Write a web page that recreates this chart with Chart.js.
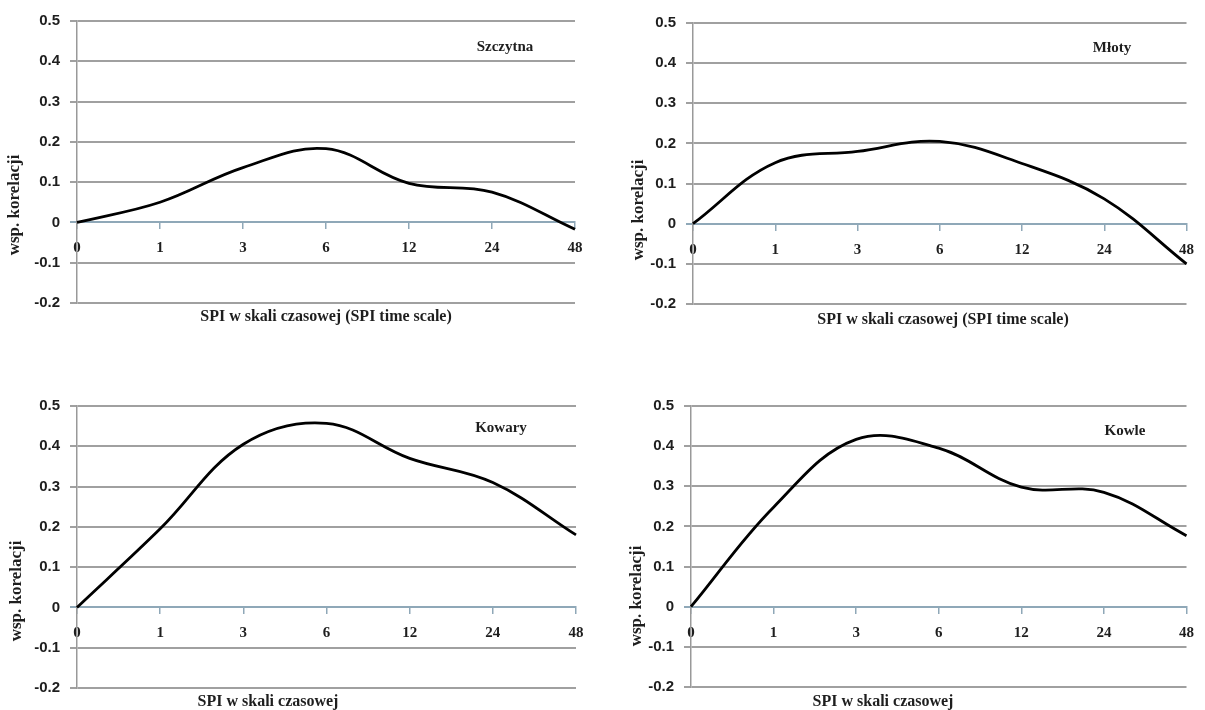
<!DOCTYPE html>
<html>
<head>
<meta charset="utf-8">
<script src="https://cdn.jsdelivr.net/npm/chart.js@4.4.0/dist/chart.umd.min.js"></script>
<style>
  body { margin: 0; background: #fff; }
  .panel { position: absolute; }
</style>
</head>
<body>
<div class="panel" style="left:0;top:0"><canvas id="c1" width="600" height="340"></canvas></div>
<div class="panel" style="left:600px;top:0"><canvas id="c2" width="605" height="340"></canvas></div>
<div class="panel" style="left:0;top:340px"><canvas id="c3" width="600" height="370"></canvas></div>
<div class="panel" style="left:600px;top:340px"><canvas id="c4" width="605" height="370"></canvas></div>
<script>
// SPI time scales (months)
const timeScales = ['0', '1', '3', '6', '12', '24', '48'];

// correlation coefficient per station
const szczytna = [0, 0.05, 0.136, 0.183, 0.097, 0.075, -0.017];
const mloty    = [0, 0.152, 0.18, 0.205, 0.15, 0.062, -0.1];
const kowary   = [0, 0.195, 0.405, 0.457, 0.37, 0.31, 0.18];
const kowle    = [0, 0.248, 0.417, 0.395, 0.298, 0.285, 0.177];

const yMin = -0.2, yMax = 0.5, yStep = 0.1;

const yTitle = 'wsp. korelacji';
const xTitleLong = 'SPI w skali czasowej (SPI time scale)';
const xTitleShort = 'SPI w skali czasowej';

const gridGray = '#a0a0a0';
const zeroBlue = '#8fa8b8';
const textColor = '#1e1e1e';
const serif = '"Liberation Serif", "DejaVu Serif", serif';
const sans = '"Liberation Sans", Arial, sans-serif';

// station name and axis titles, placed where they sit in the original figure
const panelText = {
  id: 'panelText',
  afterDraw(chart, args, opts) {
    const ctx = chart.ctx;
    ctx.save();
    ctx.fillStyle = textColor;
    ctx.textAlign = 'center';
    ctx.textBaseline = 'middle';

    ctx.font = 'bold 15px ' + serif;
    ctx.fillText(opts.station, opts.stationX, opts.stationY);

    ctx.font = 'bold 16px ' + serif;
    ctx.fillText(opts.xTitle, opts.xTitleX, opts.xTitleY);

    ctx.translate(opts.yTitleX, opts.yTitleY);
    ctx.rotate(-Math.PI / 2);
    ctx.font = 'bold 17px ' + serif;
    ctx.fillText(yTitle, 0, 0);
    ctx.restore();
  }
};

function makePanel(id, values, p) {
  const canvas = document.getElementById(id);
  return new Chart(canvas, {
    type: 'line',
    data: {
      labels: timeScales,
      datasets: [{
        data: values,
        borderColor: '#000',
        borderWidth: 2.8,
        pointRadius: 0,
        tension: 0.38,
        fill: false
      }]
    },
    options: {
      responsive: false,
      animation: false,
      layout: {
        padding: { left: 0, top: p.top, right: canvas.width - p.right, bottom: canvas.height - p.bottom }
      },
      plugins: {
        legend: { display: false },
        tooltip: { enabled: false },
        panelText: p.text
      },
      scales: {
        x: {
          position: { y: 0 },
          offset: false,
          grid: { drawOnChartArea: false, drawTicks: true, tickLength: 6, color: zeroBlue, lineWidth: 1.5 },
          border: { display: true, color: zeroBlue, width: 2 },
          ticks: { padding: 11, color: textColor, font: { family: serif, size: 15, weight: 'bold' }, maxRotation: 0 }
        },
        y: {
          min: yMin,
          max: yMax,
          afterFit: (s) => { s.width = p.left; },
          grid: {
            color: (c) => (Math.abs(c.tick.value) < 1e-9 ? zeroBlue : gridGray),
            lineWidth: 2,
            tickLength: 7
          },
          border: { display: true, color: '#999', width: 1.5 },
          ticks: {
            stepSize: yStep,
            padding: 10,
            color: textColor,
            font: { family: sans, size: 15, weight: 'bold' },
            callback: (v) => String(Math.round(v * 10) / 10)
          }
        }
      }
    },
    plugins: [panelText]
  });
}

makePanel('c1', szczytna, {
  left: 77, top: 21, right: 575, bottom: 303,
  text: { station: 'Szczytna', stationX: 505, stationY: 47, xTitle: xTitleLong, xTitleX: 326, xTitleY: 317, yTitleX: 15, yTitleY: 205 }
});
makePanel('c2', mloty, {
  left: 93, top: 23, right: 593, bottom: 304,
  text: { station: 'Młoty', stationX: 512, stationY: 48, xTitle: xTitleLong, xTitleX: 343, xTitleY: 320, yTitleX: 39, yTitleY: 210 }
});
makePanel('c3', kowary, {
  left: 77, top: 66, right: 576, bottom: 348,
  text: { station: 'Kowary', stationX: 501, stationY: 88, xTitle: xTitleShort, xTitleX: 268, xTitleY: 362, yTitleX: 17, yTitleY: 251 }
});
makePanel('c4', kowle, {
  left: 91, top: 66, right: 592, bottom: 347,
  text: { station: 'Kowle', stationX: 525, stationY: 91, xTitle: xTitleShort, xTitleX: 283, xTitleY: 362, yTitleX: 37, yTitleY: 256 }
});
</script>
</body>
</html>
